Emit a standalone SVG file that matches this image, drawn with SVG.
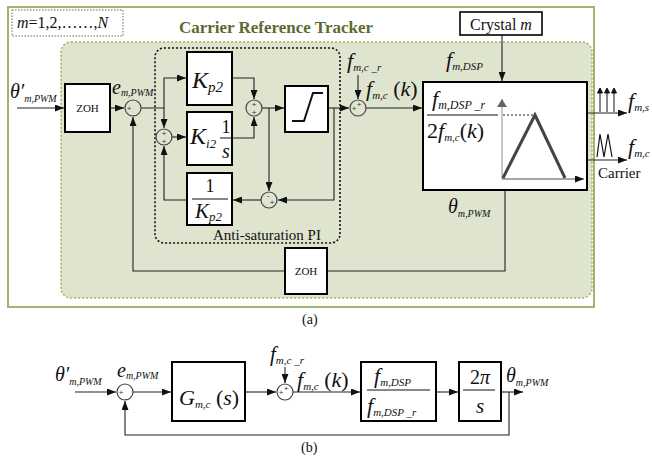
<svg xmlns="http://www.w3.org/2000/svg" width="652" height="458" viewBox="0 0 652 458">
<defs>
<marker id="ah" markerWidth="9" markerHeight="7" refX="9" refY="3.5" orient="auto" markerUnits="userSpaceOnUse"><path d="M0,0 L9,3.5 L0,7 z" fill="#111"/></marker>
<marker id="ahg" markerWidth="8" markerHeight="10" refX="8" refY="5" orient="auto" markerUnits="userSpaceOnUse"><path d="M0,0 L8,5 L0,10 z" fill="#666"/></marker>
<style>
.ln{stroke:#222;stroke-width:1.1;fill:none}
.box{fill:#fff;stroke:#000;stroke-width:2}
.sum{fill:none;stroke:#444;stroke-width:1.2}
.m{font-family:"Liberation Serif",serif;font-style:italic;fill:#111}
.r{font-family:"Liberation Serif",serif;fill:#111}
.sg{font-family:"Liberation Sans",sans-serif;font-size:8px;fill:#333;text-anchor:middle}
.n{font-style:normal}
</style>
</defs>

<!-- frames -->
<rect x="8" y="7" width="586" height="300" fill="#fff" stroke="#a2b56f" stroke-width="2"/>
<rect x="61" y="42" width="531" height="256" rx="10" fill="#dfe4cf" stroke="#9db35a" stroke-width="1.5" stroke-dasharray="2,2"/>
<rect x="12" y="10" width="111" height="26" fill="#fff" stroke="#666" stroke-width="1" stroke-dasharray="1.5,1.5"/>
<text x="17" y="28" font-size="16" class="m">m<tspan class="n">=1,2,……,</tspan>N</text>
<text x="276" y="33" font-size="17" font-weight="bold" text-anchor="middle" font-family="Liberation Serif,serif" fill="#5b6b2e">Carrier Reference Tracker</text>
<rect x="155" y="48" width="185" height="195" rx="9" fill="none" stroke="#111" stroke-width="1.6" stroke-dasharray="2,2"/>
<text x="213" y="240" font-size="15" class="r">Anti-saturation PI</text>

<!-- connectors -->
<g id="connectors">
<path class="ln" d="M17,108 H64" marker-end="url(#ah)"/>
<path class="ln" d="M110,108 H124" marker-end="url(#ah)"/>
<path class="ln" d="M141,108 H164 V78 H186" marker-end="url(#ah)"/>
<path class="ln" d="M164,108 V128" marker-end="url(#ah)"/>
<path class="ln" d="M172,137 H186" marker-end="url(#ah)"/>
<path class="ln" d="M187,200 H164 V146" marker-end="url(#ah)"/>
<path class="ln" d="M232,78 H254 V99" marker-end="url(#ah)"/>
<path class="ln" d="M232,138 H254 V117" marker-end="url(#ah)"/>
<path class="ln" d="M262,108 H284" marker-end="url(#ah)"/>
<path class="ln" d="M269,108 V191" marker-end="url(#ah)"/>
<path class="ln" d="M328,108 H349" marker-end="url(#ah)"/>
<path class="ln" d="M334,108 V200 H278" marker-end="url(#ah)"/>
<path class="ln" d="M261,200 H233" marker-end="url(#ah)"/>
<path class="ln" d="M358,75 V99" marker-end="url(#ah)"/>
<path class="ln" d="M366,108 H422" marker-end="url(#ah)"/>
<path class="ln" d="M502,35 V81" marker-end="url(#ah)"/>
<path class="ln" d="M587,113 H627" marker-end="url(#ah)"/>
<path class="ln" d="M587,160 H627" marker-end="url(#ah)"/>
<path class="ln" d="M505,191 V271 H327"/>
<path class="ln" d="M285,271 H133 V117" marker-end="url(#ah)"/>
<!-- (b) -->
<path class="ln" d="M75,392 H116" marker-end="url(#ah)"/>
<path class="ln" d="M133,392 H171" marker-end="url(#ah)"/>
<path class="ln" d="M245,392 H276" marker-end="url(#ah)"/>
<path class="ln" d="M285,367 V383" marker-end="url(#ah)"/>
<path class="ln" d="M293,392 H360" marker-end="url(#ah)"/>
<path class="ln" d="M436,392 H458" marker-end="url(#ah)"/>
<path class="ln" d="M501,392 H523" marker-end="url(#ah)"/>
<path class="ln" d="M509,392 V435 H125 V401" marker-end="url(#ah)"/>
</g>

<!-- (a) nodes -->
<text x="10" y="98" font-size="20" class="m">θ′<tspan font-size="10" dy="4">m,PWM</tspan></text>
<g id="zoh1"><rect class="box" x="65" y="84" width="45" height="48"/><text x="87.5" y="112" font-size="11" text-anchor="middle" class="r">ZOH</text></g>
<g id="sum1"><circle class="sum" cx="133" cy="108" r="8"/><text class="sg" x="129" y="111">+</text><text class="sg" x="134" y="117">-</text></g>
<text x="112" y="94" font-size="20" class="m">e<tspan font-size="10" dy="2">m,PWM</tspan></text>
<g id="sum2"><circle class="sum" cx="164" cy="137" r="8"/><text class="sg" x="164" y="136">+</text><text class="sg" x="164" y="144">+</text></g>
<g id="kp2"><rect class="box" x="187" y="52" width="45" height="53"/><text x="192" y="88" font-size="24" class="m">K<tspan font-size="15" dy="4">p2</tspan></text></g>
<g id="ki2"><rect class="box" x="187" y="112" width="45" height="53"/><text x="190" y="144" font-size="24" class="m">K<tspan font-size="13" dy="4">i2</tspan></text><text x="226" y="133" font-size="18" text-anchor="middle" class="r">1</text><line x1="220" y1="138" x2="231" y2="138" stroke="#111" stroke-width="1"/><text x="226" y="158" font-size="20" text-anchor="middle" class="m">s</text></g>
<g id="sum3"><circle class="sum" cx="254" cy="108" r="8"/><text class="sg" x="254" y="107">+</text><text class="sg" x="254" y="115">+</text></g>
<g id="sat"><rect class="box" x="285" y="86" width="43" height="46"/><path d="M292,121 H304 L313,93 H323" fill="none" stroke="#111" stroke-width="2"/></g>
<g id="sum4"><circle class="sum" cx="269" cy="200" r="8"/><text class="sg" x="268" y="198">-</text><text class="sg" x="272" y="205">+</text></g>
<g id="invkp2"><rect class="box" x="187" y="173" width="45" height="52"/><text x="210" y="192" font-size="18" text-anchor="middle" class="r">1</text><line x1="192" y1="199" x2="228" y2="199" stroke="#111" stroke-width="1"/><text x="195" y="218" font-size="21" class="m">K<tspan font-size="13" dy="3">p2</tspan></text></g>
<text x="347" y="68" font-size="22" class="m">f<tspan font-size="11" dy="3">m,c _r</tspan></text>
<g id="sum5"><circle class="sum" cx="358" cy="108" r="8"/><text class="sg" x="359" y="107">+</text><text class="sg" x="354" y="111">+</text></g>
<text x="366" y="96" font-size="22" class="m">f<tspan font-size="11" dy="3">m,c</tspan><tspan dy="-3" class="n"> (</tspan>k<tspan class="n">)</tspan></text>
<g id="crystal"><rect x="460" y="12" width="82" height="23" fill="#fff" stroke="#000" stroke-width="1.6"/><text x="501" y="30" font-size="16" text-anchor="middle" class="r">Crystal <tspan font-style="italic">m</tspan></text></g>
<text x="446" y="67" font-size="22" class="m">f<tspan font-size="11" dy="3">m,DSP</tspan></text>
<g id="carriergen">
<rect class="box" x="423" y="82" width="164" height="108"/>
<text x="432" y="106" font-size="22" class="m">f<tspan font-size="12" dy="3">m,DSP _r</tspan></text>
<line x1="427" y1="115" x2="498" y2="115" stroke="#111" stroke-width="1"/>
<text x="427" y="138" font-size="22" class="m"><tspan class="n">2</tspan>f<tspan font-size="11" dy="3">m,c</tspan><tspan dy="-3" class="n">(</tspan>k<tspan class="n">)</tspan></text>
<path d="M502,179 V99" stroke="#777" stroke-width="0.8" fill="none" marker-end="url(#ahg)"/>
<path d="M502,179 H584" stroke="#222" stroke-width="0.8" fill="none" marker-end="url(#ah)"/>
<path d="M503,115 H535" stroke="#222" stroke-width="1" stroke-dasharray="2,2" fill="none"/>
<path d="M503,178 L535,115 L565,178" stroke="#444" stroke-width="3" fill="none"/>
</g>
<g id="impulses" stroke="#111" stroke-width="1" fill="none">
<path d="M600,112 V90 M607,112 V90 M614,112 V90"/>
<path d="M597.5,93 L600,88 L602.5,93 Z M604.5,93 L607,88 L609.5,93 Z M611.5,93 L614,88 L616.5,93 Z" fill="#111"/>
</g>
<text x="628" y="108" font-size="22" class="m">f<tspan font-size="11" dy="3">m,s</tspan></text>
<polyline points="597,157 600,134 604,157 608,134 612,157" fill="none" stroke="#111" stroke-width="1.2"/>
<text x="628" y="154" font-size="22" class="m">f<tspan font-size="11" dy="3">m,c</tspan></text>
<text x="598" y="178" font-size="15" class="r">Carrier</text>
<text x="448" y="213" font-size="20" class="m">θ<tspan font-size="10" dy="4">m,PWM</tspan></text>
<g id="zoh2"><rect class="box" x="285" y="248" width="42" height="46"/><text x="306" y="275" font-size="11" text-anchor="middle" class="r">ZOH</text></g>
<text x="302" y="324" font-size="14" class="r">(a)</text>

<!-- (b) nodes -->
<text x="55" y="381" font-size="20" class="m">θ′<tspan font-size="10" dy="4">m,PWM</tspan></text>
<g id="sumb1"><circle class="sum" cx="125" cy="392" r="8"/><text class="sg" x="121" y="395">+</text><text class="sg" x="126" y="401">-</text></g>
<text x="117" y="377" font-size="20" class="m">e<tspan font-size="10" dy="2">m,PWM</tspan></text>
<g id="gmc"><rect class="box" x="172" y="362" width="73" height="59"/><text x="179" y="405" font-size="22" class="m">G<tspan font-size="11" dy="3">m,c</tspan><tspan dy="-3" class="n"> (</tspan>s<tspan class="n">)</tspan></text></g>
<text x="270" y="361" font-size="21" class="m">f<tspan font-size="11" dy="3">m,c _r</tspan></text>
<g id="sumb2"><circle class="sum" cx="285" cy="392" r="8"/><text class="sg" x="286" y="391">+</text><text class="sg" x="281" y="395">+</text></g>
<text x="297" y="387" font-size="22" class="m">f<tspan font-size="11" dy="3">m,c</tspan><tspan dy="-3" class="n"> (</tspan>k<tspan class="n">)</tspan></text>
<g id="ratio"><rect class="box" x="361" y="362" width="75" height="59"/><text x="374" y="383" font-size="22" class="m">f<tspan font-size="11" dy="3">m,DSP</tspan></text><line x1="367" y1="390" x2="430" y2="390" stroke="#111" stroke-width="1"/><text x="367" y="413" font-size="22" class="m">f<tspan font-size="11" dy="3">m,DSP _r</tspan></text></g>
<g id="integ"><rect class="box" x="459" y="362" width="42" height="59"/><text x="480" y="384" font-size="20" text-anchor="middle" class="r">2<tspan font-style="italic">π</tspan></text><line x1="463" y1="390" x2="495" y2="390" stroke="#111" stroke-width="1"/><text x="480" y="413" font-size="21" text-anchor="middle" class="m">s</text></g>
<text x="506" y="382" font-size="20" class="m">θ<tspan font-size="10" dy="4">m,PWM</tspan></text>
<text x="301" y="452" font-size="14" class="r">(b)</text>
</svg>
